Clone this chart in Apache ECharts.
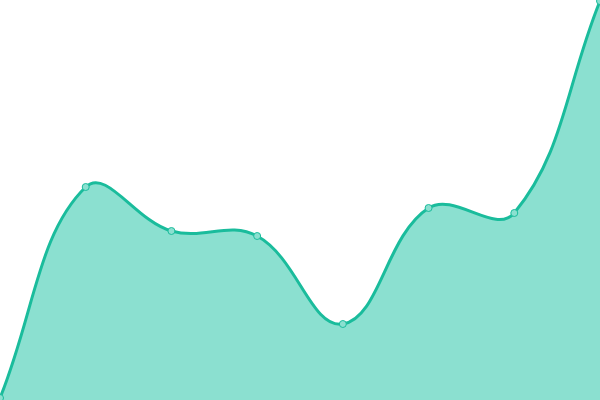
<!DOCTYPE html>
<html><head><meta charset="utf-8">
<script src="https://cdn.jsdelivr.net/npm/echarts@6/dist/echarts.min.js"></script>
<style>html,body{margin:0;padding:0;background:#fff}#c{width:600px;height:400px}</style>
</head><body><div id="c"></div>
<script>
var categories = ['A','B','C','D','E','F','G','H'];
var values = [2, 213, 169, 164, 76, 192, 187, 399];
var LINE = '#1abc9c', FILL = '#8be0d0', TENSION = 0.4;

function splinePath(pts) {
  // cardinal-style spline, control points weighted by segment lengths
  var cps = pts.map(function (p, i) {
    var prev = pts[i - 1] || p, next = pts[i + 1] || p;
    var d01 = Math.hypot(p[0] - prev[0], p[1] - prev[1]);
    var d12 = Math.hypot(next[0] - p[0], next[1] - p[1]);
    var s01 = d01 / (d01 + d12), s12 = d12 / (d01 + d12);
    if (isNaN(s01)) s01 = 0; if (isNaN(s12)) s12 = 0;
    var fa = TENSION * s01, fb = TENSION * s12;
    var vx = next[0] - prev[0], vy = next[1] - prev[1];
    return {
      prev: [p[0] - fa * vx, p[1] - fa * vy],
      next: [p[0] + fb * vx, p[1] + fb * vy]
    };
  });
  var d = 'M' + pts[0][0] + ' ' + pts[0][1];
  for (var i = 1; i < pts.length; i++) {
    var c1 = cps[i - 1].next, c2 = cps[i].prev;
    d += ' C' + c1[0] + ' ' + c1[1] + ' ' + c2[0] + ' ' + c2[1] + ' ' + pts[i][0] + ' ' + pts[i][1];
  }
  return d;
}

var chart = echarts.init(document.getElementById('c'));
chart.setOption({
  animation: false,
  grid: {left: 0, right: 0, top: 0, bottom: 0},
  xAxis: {type: 'category', data: categories, boundaryGap: false, show: false},
  yAxis: {type: 'value', min: 0, max: 400, show: false},
  series: [{
    type: 'custom',
    data: values.map(function (v, i) { return [i, v]; }),
    encode: {x: 0, y: 1},
    silent: true,
    renderItem: function (params, api) {
      if (params.dataIndex !== 0) return null;
      var pts = values.map(function (v, i) { return api.coord([i, v]); });
      var base = api.coord([0, 0])[1];
      var curve = splinePath(pts);
      var last = pts[pts.length - 1], first = pts[0];
      var area = curve + ' L' + last[0] + ' ' + base + ' L' + first[0] + ' ' + base + ' Z';
      return {
        type: 'group',
        children: [
          {type: 'path', shape: {pathData: area}, style: {fill: FILL, stroke: null}},
          {type: 'path', shape: {pathData: curve}, style: {fill: null, stroke: LINE, lineWidth: 3}}
        ]
      };
    }
  }, {
    type: 'line',
    data: values,
    symbol: 'circle',
    symbolSize: 7,
    z: 3,
    lineStyle: {width: 0, opacity: 0},
    itemStyle: {color: FILL, borderColor: LINE, borderWidth: 1}
  }]
});
</script></body></html>
